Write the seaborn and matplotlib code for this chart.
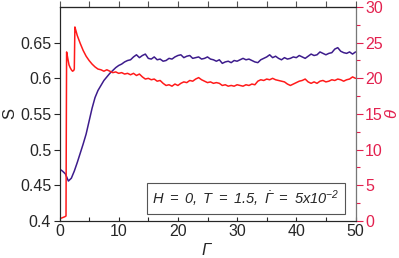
import numpy as np
import matplotlib
matplotlib.use("Agg")
import matplotlib.pyplot as plt
import seaborn as sns
from matplotlib.ticker import FuncFormatter, MultipleLocator

# S(Gamma), left axis
gamma_s = [i * 0.5 for i in range(101)]
s_vals = [0.473, 0.470, 0.466, 0.456, 0.460, 0.470, 0.482, 0.495, 0.508, 0.522,
          0.540, 0.558, 0.573, 0.583, 0.590, 0.597, 0.602, 0.607, 0.611, 0.615,
          0.618, 0.620, 0.623, 0.625, 0.626, 0.630, 0.633, 0.629, 0.632, 0.634,
          0.628, 0.627, 0.630, 0.626, 0.627, 0.624, 0.625, 0.628, 0.627, 0.630,
          0.632, 0.633, 0.629, 0.631, 0.632, 0.628, 0.629, 0.630, 0.627, 0.628,
          0.630, 0.627, 0.626, 0.624, 0.626, 0.621, 0.623, 0.624, 0.622, 0.625,
          0.624, 0.626, 0.628, 0.626, 0.627, 0.625, 0.623, 0.622, 0.626, 0.628,
          0.630, 0.633, 0.629, 0.631, 0.628, 0.626, 0.629, 0.627, 0.628, 0.630,
          0.629, 0.632, 0.630, 0.628, 0.631, 0.634, 0.632, 0.633, 0.637, 0.635,
          0.633, 0.635, 0.636, 0.641, 0.643, 0.638, 0.636, 0.635, 0.637, 0.634,
          0.637]

# theta(Gamma), right axis
gamma_t = [0, 0.3, 0.6, 0.9, 1.1, 1.15, 1.2, 1.4, 1.6, 1.8, 2.0, 2.2, 2.4, 2.5,
           2.6, 2.8, 3.0] + [3.5 + 0.5 * i for i in range(94)]
theta = [0.4, 0.4, 0.5, 0.6, 0.7, 13.0, 23.7, 22.8, 21.9, 21.5, 21.2, 21.0, 21.1, 21.3,
         27.2, 26.6, 26.0,
         24.9, 23.9, 23.1, 22.5, 22.0, 21.6, 21.3, 21.2, 21.0, 21.2,
         21.0, 20.8, 20.9, 20.7, 20.8, 20.6, 20.7, 20.5, 20.7, 20.4,
         20.6, 20.2, 19.9, 20.0, 19.8, 19.9, 19.6, 19.7, 19.3, 19.0,
         19.1, 18.9, 19.2, 19.0, 19.3, 19.5, 19.4, 19.7, 19.6, 19.9,
         20.1, 19.8, 19.6, 19.4, 19.5, 19.3, 19.4, 19.3, 19.0, 19.1,
         18.9, 19.0, 18.9, 19.1, 19.0, 18.9, 19.1, 19.0, 19.2, 19.1,
         19.6, 19.8, 19.7, 19.9, 19.8, 20.0, 19.8, 19.7, 19.6, 19.5,
         19.2, 19.0, 19.2, 19.4, 19.6, 19.7, 19.9, 19.5, 19.3, 19.5,
         19.3, 19.6, 19.7, 19.5, 19.6, 19.8, 19.7, 19.9, 19.8, 19.6,
         19.8, 19.9, 20.2, 20.0]

purple = "#3d1c8c"
red = "#ff1a1a"
crimson = "#e3214f"

sns.set_style("ticks")
plt.rcParams["font.family"] = ["Liberation Sans", "DejaVu Sans"]
plt.rcParams["mathtext.fontset"] = "custom"
plt.rcParams["mathtext.rm"] = "Liberation Sans:italic"
plt.rcParams["mathtext.it"] = "Liberation Sans:italic"

fig = plt.figure(figsize=(3.99, 2.58), dpi=100)
ax = fig.add_axes([59.5 / 399, 1 - 221 / 258, 296 / 399, 214 / 258])

sns.lineplot(x=gamma_s, y=s_vals, ax=ax, color=purple, linewidth=1.1)
ax.set_xlim(0, 50)
ax.set_ylim(0.4, 0.7)
ax.set_yticks([0.4, 0.45, 0.5, 0.55, 0.6, 0.65])
ax.yaxis.set_major_formatter(FuncFormatter(lambda v, p: "%g" % round(v, 2)))
ax.xaxis.set_major_locator(MultipleLocator(10))
ax.xaxis.set_minor_locator(MultipleLocator(5))
ax.tick_params(axis="x", which="both", direction="in", length=3, width=0.8,
               labelsize=11.5, pad=2)
ax.tick_params(axis="y", direction="out", length=4, width=0.8, labelsize=11.5, pad=2)
ax.set_xlabel(r"$\Gamma$", fontsize=12, labelpad=2)
ax.set_ylabel("S", fontsize=12, labelpad=2)

top = ax.secondary_xaxis("top")
top.set_xticks(range(0, 51, 5))
top.tick_params(direction="out", length=4, width=0.8, labeltop=False, color="#555555")

ax2 = ax.twinx()
sns.lineplot(x=gamma_t, y=theta, ax=ax2, color=red, linewidth=1.1)
ax2.set_ylim(0, 30)
ax2.yaxis.set_major_locator(MultipleLocator(5))
ax2.yaxis.set_minor_locator(MultipleLocator(2.5))
ax2.tick_params(axis="y", which="major", direction="out", length=5, width=0.8,
                colors=crimson, labelsize=11.5, pad=2)
ax2.tick_params(axis="y", which="minor", direction="out", length=3, width=0.8,
                colors=crimson)
ax2.set_ylabel(r"$\theta$", fontsize=12, color=crimson, labelpad=1)
ax2.spines["right"].set_color("#777777")

ax.text(0.63, 0.105, r"$H\ =\ 0,\ T\ =\ 1.5,\ \dot{\Gamma}\ =\ 5x10^{-2}$",
        transform=ax.transAxes, ha="center", va="center", fontsize=10.5,
        bbox=dict(boxstyle="square,pad=0.35", facecolor="white", edgecolor="#555555",
                  linewidth=0.8), zorder=5)

fig.savefig("out.png", dpi=100)
